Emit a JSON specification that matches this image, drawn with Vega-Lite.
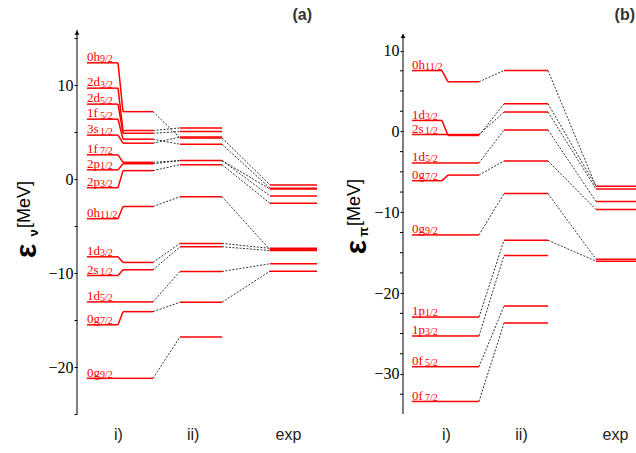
{
"$schema": "https://vega.github.io/schema/vega-lite/v6.json",
"padding": {"left": 12, "top": 7, "right": 0, "bottom": 3},
"spacing": 24,
"config": {"view": {"stroke": null}, "axis": {"grid": false}},
"datasets": {
"levA": [
{"n":"0h","s":"9/2","bare":12.4,"i":7.2},
{"n":"2d","s":"3/2","bare":9.7,"i":5.19},
{"n":"2d","s":"5/2","bare":8.0,"i":4.9},
{"n":"1f","s":"5/2","bare":6.4,"i":4.27},
{"n":"3s","s":"1/2","bare":4.7,"i":3.84},
{"n":"1f","s":"7/2","bare":2.6,"i":1.8},
{"n":"2p","s":"1/2","bare":1.0,"i":1.65},
{"n":"2p","s":"3/2","bare":-0.9,"i":0.92},
{"n":"0h","s":"11/2","bare":-4.2,"i":-2.9},
{"n":"1d","s":"3/2","bare":-8.26,"i":-8.86},
{"n":"2s","s":"1/2","bare":-10.25,"i":-9.64},
{"n":"1d","s":"5/2","bare":-13.06,"i":-13.06},
{"n":"0g","s":"7/2","bare":-15.5,"i":-14.1},
{"n":"0g","s":"9/2","bare":-21.2,"i":-21.2}
],
"iiA": [{"v":5.47},{"v":5.08},{"v":4.5},{"v":4.4},{"v":3.73},{"v":1.99},{"v":1.55},{"v":-1.86},{"v":-6.83},{"v":-7.19},{"v":-9.82},{"v":-13.1},{"v":-16.8}],
"expA": [{"v":-0.61},{"v":-0.96},{"v":-1.05},{"v":-1.78},{"v":-2.56},{"v":-7.36},{"v":-7.5},{"v":-7.6},{"v":-9.0},{"v":-9.79}],
"conA1": [{"a":7.2,"b":4.4},{"a":5.19,"b":5.47},{"a":4.9,"b":5.08},{"a":4.27,"b":3.73},{"a":3.84,"b":4.5},{"a":1.8,"b":1.99},{"a":1.65,"b":1.99},{"a":0.92,"b":1.55},{"a":-2.9,"b":-1.86},{"a":-8.86,"b":-6.83},{"a":-9.64,"b":-7.19},{"a":-13.06,"b":-9.82},{"a":-14.1,"b":-13.1},{"a":-21.2,"b":-16.8}],
"conA2": [{"a":4.4,"b":-0.61},{"a":3.73,"b":-0.96},{"a":1.99,"b":-1.05},{"a":1.99,"b":-1.78},{"a":1.55,"b":-2.56},{"a":-1.86,"b":-7.5},{"a":-6.83,"b":-7.36},{"a":-7.19,"b":-7.6},{"a":-9.82,"b":-9.0},{"a":-13.1,"b":-9.79}],
"levB": [
{"n":"0h","s":"11/2","bare":7.53,"i":6.14},
{"n":"1d","s":"3/2","bare":1.36,"i":-0.5},
{"n":"2s","s":"1/2","bare":-0.38,"i":-0.38},
{"n":"1d","s":"5/2","bare":-3.9,"i":-3.9},
{"n":"0g","s":"7/2","bare":-6.09,"i":-5.4},
{"n":"0g","s":"9/2","bare":-12.8,"i":-12.8},
{"n":"1p","s":"1/2","bare":-22.96,"i":-22.96},
{"n":"1p","s":"3/2","bare":-25.3,"i":-25.3},
{"n":"0f","s":"5/2","bare":-29.1,"i":-29.1},
{"n":"0f","s":"7/2","bare":-33.4,"i":-33.4}
],
"iiB": [{"v":7.53},{"v":3.42},{"v":2.4},{"v":0.17},{"v":-3.65},{"v":-7.69},{"v":-13.46},{"v":-15.35},{"v":-21.6},{"v":-23.7}],
"expB": [{"v":-6.79},{"v":-7.11},{"v":-8.66},{"v":-9.65},{"v":-15.8},{"v":-16.05}],
"conB1": [{"a":6.14,"b":7.53},{"a":-0.5,"b":3.42},{"a":-0.38,"b":2.4},{"a":-3.9,"b":0.17},{"a":-5.4,"b":-3.65},{"a":-12.8,"b":-7.69},{"a":-22.96,"b":-13.46},{"a":-25.3,"b":-15.35},{"a":-29.1,"b":-21.6},{"a":-33.4,"b":-23.7}],
"conB2": [{"a":7.53,"b":-6.79},{"a":3.42,"b":-6.79},{"a":2.4,"b":-7.11},{"a":0.17,"b":-8.66},{"a":-3.65,"b":-9.65},{"a":-7.69,"b":-15.8},{"a":-13.46,"b":-16.05}],
"minorB": [{"t":-32.5},{"t":-27.5},{"t":-25},{"t":-22.5},{"t":-17.5},{"t":-15},{"t":-12.5},{"t":-7.5},{"t":-5},{"t":-2.5},{"t":2.5},{"t":5},{"t":7.5}]
},
"hconcat": [
{
"width": 241, "height": 385,
"title": {"text": "(a)", "anchor": "end", "frame": "group", "font": "Liberation Sans", "fontSize": 16, "fontWeight": "bold", "color": "#333333", "offset": 6, "dx": -6},
"layer": [
{"data": {"values": [{}]}, "mark": {"type": "rule", "color": "black", "strokeWidth": 1},
 "encoding": {
  "x": {"datum": 0, "type": "quantitative", "scale": {"domain": [0, 241]},
   "axis": {"values": [41, 115.7, 211], "labelExpr": "datum.value < 80 ? 'i)' : (datum.value < 160 ? 'ii)' : 'exp')", "domain": false, "ticks": false, "title": null, "labelFont": "Liberation Sans", "labelFontSize": 16, "labelColor": "#222222", "labelPadding": 12, "labelFlush": false, "labelOverlap": false}},
  "y": {"datum": -25, "type": "quantitative", "scale": {"domain": [-25, 16]},
   "axis": {"values": [-25,-22.5,-20,-17.5,-15,-12.5,-10,-7.5,-5,-2.5,0,2.5,5,7.5,10,12.5,15], "labelExpr": "datum.value % 10 === 0 ? format(datum.value, 'd') : ''", "domain": false, "title": null, "labelFont": "Liberation Serif", "labelFontSize": 16, "labelColor": "black", "tickColor": "black", "tickSize": 3, "labelPadding": 1, "labelFlush": false, "labelOverlap": false}},
  "y2": {"datum": 15.9}
 }},
{"data": {"values": [{}]}, "mark": {"type": "point", "shape": "triangle-up", "filled": true, "color": "black", "size": 22, "opacity": 1},
 "encoding": {"x": {"datum": 0, "type": "quantitative", "scale": {"domain": [0, 241]}}, "y": {"datum": 15.6, "type": "quantitative", "scale": {"domain": [-25, 16]}}}},
{"data": {"name": "conA1"}, "mark": {"type": "rule", "color": "black", "strokeWidth": 0.8, "strokeDash": [2, 1.5]},
 "encoding": {"x": {"datum": 76, "type": "quantitative", "scale": {"domain": [0, 241]}}, "x2": {"datum": 103}, "y": {"field": "a", "type": "quantitative", "scale": {"domain": [-25, 16]}}, "y2": {"field": "b"}}},
{"data": {"name": "conA2"}, "mark": {"type": "rule", "color": "black", "strokeWidth": 0.8, "strokeDash": [2, 1.5]},
 "encoding": {"x": {"datum": 145, "type": "quantitative", "scale": {"domain": [0, 241]}}, "x2": {"datum": 193}, "y": {"field": "a", "type": "quantitative", "scale": {"domain": [-25, 16]}}, "y2": {"field": "b"}}},
{"data": {"name": "levA"}, "mark": {"type": "rule", "color": "#ff0000", "strokeWidth": 1.5},
 "encoding": {"x": {"datum": 10, "type": "quantitative", "scale": {"domain": [0, 241]}}, "x2": {"datum": 41}, "y": {"field": "bare", "type": "quantitative", "scale": {"domain": [-25, 16]}}}},
{"data": {"name": "levA"}, "mark": {"type": "rule", "color": "#ff0000", "strokeWidth": 1.5},
 "encoding": {"x": {"datum": 41, "type": "quantitative", "scale": {"domain": [0, 241]}}, "x2": {"datum": 46}, "y": {"field": "bare", "type": "quantitative", "scale": {"domain": [-25, 16]}}, "y2": {"field": "i"}}},
{"data": {"name": "levA"}, "mark": {"type": "rule", "color": "#ff0000", "strokeWidth": 1.5},
 "encoding": {"x": {"datum": 46, "type": "quantitative", "scale": {"domain": [0, 241]}}, "x2": {"datum": 76}, "y": {"field": "i", "type": "quantitative", "scale": {"domain": [-25, 16]}}}},
{"data": {"name": "iiA"}, "mark": {"type": "rule", "color": "#ff0000", "strokeWidth": 1.5},
 "encoding": {"x": {"datum": 103, "type": "quantitative", "scale": {"domain": [0, 241]}}, "x2": {"datum": 145}, "y": {"field": "v", "type": "quantitative", "scale": {"domain": [-25, 16]}}}},
{"data": {"name": "expA"}, "mark": {"type": "rule", "color": "#ff0000", "strokeWidth": 1.5},
 "encoding": {"x": {"datum": 193, "type": "quantitative", "scale": {"domain": [0, 241]}}, "x2": {"datum": 240}, "y": {"field": "v", "type": "quantitative", "scale": {"domain": [-25, 16]}}}},
{"data": {"name": "levA"}, "mark": {"type": "text", "align": "left", "baseline": "alphabetic", "dy": -1.8, "font": "Liberation Serif", "fontSize": 13, "color": "#ff0000"},
 "encoding": {"x": {"datum": 10, "type": "quantitative", "scale": {"domain": [0, 241]}}, "y": {"field": "bare", "type": "quantitative", "scale": {"domain": [-25, 16]}}, "text": {"field": "n"}}},
{"data": {"name": "levA"}, "mark": {"type": "text", "align": "left", "baseline": "alphabetic", "dx": 13, "dy": -0.6, "font": "Liberation Serif", "fontSize": 10, "color": "#ff0000"},
 "encoding": {"x": {"datum": 10, "type": "quantitative", "scale": {"domain": [0, 241]}}, "y": {"field": "bare", "type": "quantitative", "scale": {"domain": [-25, 16]}}, "text": {"field": "s"}}},
{"data": {"values": [{}]}, "mark": {"type": "text", "text": "ε", "angle": 270, "align": "center", "baseline": "middle", "font": "Liberation Sans", "fontWeight": "bold", "fontSize": 30, "color": "black"},
 "encoding": {"x": {"datum": -50, "type": "quantitative", "scale": {"domain": [0, 241]}}, "y": {"datum": -7.64, "type": "quantitative", "scale": {"domain": [-25, 16]}}}},
{"data": {"values": [{}]}, "mark": {"type": "text", "text": "ν", "angle": 270, "align": "center", "baseline": "middle", "font": "Liberation Sans", "fontWeight": "bold", "fontSize": 13, "color": "black"},
 "encoding": {"x": {"datum": -43, "type": "quantitative", "scale": {"domain": [0, 241]}}, "y": {"datum": -5.7, "type": "quantitative", "scale": {"domain": [-25, 16]}}}},
{"data": {"values": [{}]}, "mark": {"type": "text", "text": "[MeV]", "angle": 270, "align": "center", "baseline": "middle", "font": "Liberation Sans", "fontSize": 18, "color": "black"},
 "encoding": {"x": {"datum": -52, "type": "quantitative", "scale": {"domain": [0, 241]}}, "y": {"datum": -2.7, "type": "quantitative", "scale": {"domain": [-25, 16]}}}}
]
},
{
"width": 235, "height": 385,
"title": {"text": "(b)", "anchor": "end", "frame": "group", "font": "Liberation Sans", "fontSize": 16, "fontWeight": "bold", "color": "#333333", "offset": 6, "dx": -3},
"layer": [
{"data": {"values": [{}]}, "mark": {"type": "rule", "color": "black", "strokeWidth": 1},
 "encoding": {
  "x": {"datum": 0, "type": "quantitative", "scale": {"domain": [0, 235]},
   "axis": {"values": [43, 118, 212], "labelExpr": "datum.value < 80 ? 'i)' : (datum.value < 160 ? 'ii)' : 'exp')", "domain": false, "ticks": false, "title": null, "labelFont": "Liberation Sans", "labelFontSize": 16, "labelColor": "#222222", "labelPadding": 12, "labelFlush": false, "labelOverlap": false}},
  "y": {"datum": -34.95, "type": "quantitative", "scale": {"domain": [-34.95, 12.67]},
   "axis": {"values": [-30, -20, -10, 0, 10], "format": "d", "domain": false, "title": null, "labelFont": "Liberation Serif", "labelFontSize": 16, "labelColor": "black", "tickColor": "black", "tickSize": 3, "labelPadding": 1, "labelFlush": false, "labelOverlap": false}},
  "y2": {"datum": 12.05}
 }},
{"data": {"name": "minorB"}, "mark": {"type": "rule", "color": "black", "strokeWidth": 1},
 "encoding": {"x": {"datum": -3, "type": "quantitative", "scale": {"domain": [0, 235]}}, "x2": {"datum": 0}, "y": {"field": "t", "type": "quantitative", "scale": {"domain": [-34.95, 12.67]}}}},
{"data": {"values": [{}]}, "mark": {"type": "point", "shape": "triangle-up", "filled": true, "color": "black", "size": 22, "opacity": 1},
 "encoding": {"x": {"datum": 0, "type": "quantitative", "scale": {"domain": [0, 235]}}, "y": {"datum": 11.8, "type": "quantitative", "scale": {"domain": [-34.95, 12.67]}}}},
{"data": {"name": "conB1"}, "mark": {"type": "rule", "color": "black", "strokeWidth": 0.8, "strokeDash": [2, 1.5]},
 "encoding": {"x": {"datum": 76, "type": "quantitative", "scale": {"domain": [0, 235]}}, "x2": {"datum": 101}, "y": {"field": "a", "type": "quantitative", "scale": {"domain": [-34.95, 12.67]}}, "y2": {"field": "b"}}},
{"data": {"name": "conB2"}, "mark": {"type": "rule", "color": "black", "strokeWidth": 0.8, "strokeDash": [2, 1.5]},
 "encoding": {"x": {"datum": 145, "type": "quantitative", "scale": {"domain": [0, 235]}}, "x2": {"datum": 193}, "y": {"field": "a", "type": "quantitative", "scale": {"domain": [-34.95, 12.67]}}, "y2": {"field": "b"}}},
{"data": {"name": "levB"}, "mark": {"type": "rule", "color": "#ff0000", "strokeWidth": 1.5},
 "encoding": {"x": {"datum": 9, "type": "quantitative", "scale": {"domain": [0, 235]}}, "x2": {"datum": 39}, "y": {"field": "bare", "type": "quantitative", "scale": {"domain": [-34.95, 12.67]}}}},
{"data": {"name": "levB"}, "mark": {"type": "rule", "color": "#ff0000", "strokeWidth": 1.5},
 "encoding": {"x": {"datum": 39, "type": "quantitative", "scale": {"domain": [0, 235]}}, "x2": {"datum": 45}, "y": {"field": "bare", "type": "quantitative", "scale": {"domain": [-34.95, 12.67]}}, "y2": {"field": "i"}}},
{"data": {"name": "levB"}, "mark": {"type": "rule", "color": "#ff0000", "strokeWidth": 1.5},
 "encoding": {"x": {"datum": 45, "type": "quantitative", "scale": {"domain": [0, 235]}}, "x2": {"datum": 76}, "y": {"field": "i", "type": "quantitative", "scale": {"domain": [-34.95, 12.67]}}}},
{"data": {"name": "iiB"}, "mark": {"type": "rule", "color": "#ff0000", "strokeWidth": 1.5},
 "encoding": {"x": {"datum": 101, "type": "quantitative", "scale": {"domain": [0, 235]}}, "x2": {"datum": 145}, "y": {"field": "v", "type": "quantitative", "scale": {"domain": [-34.95, 12.67]}}}},
{"data": {"name": "expB"}, "mark": {"type": "rule", "color": "#ff0000", "strokeWidth": 1.5},
 "encoding": {"x": {"datum": 193, "type": "quantitative", "scale": {"domain": [0, 235]}}, "x2": {"datum": 235}, "y": {"field": "v", "type": "quantitative", "scale": {"domain": [-34.95, 12.67]}}}},
{"data": {"name": "levB"}, "mark": {"type": "text", "align": "left", "baseline": "alphabetic", "dy": -1.8, "font": "Liberation Serif", "fontSize": 13, "color": "#ff0000"},
 "encoding": {"x": {"datum": 9, "type": "quantitative", "scale": {"domain": [0, 235]}}, "y": {"field": "bare", "type": "quantitative", "scale": {"domain": [-34.95, 12.67]}}, "text": {"field": "n"}}},
{"data": {"name": "levB"}, "mark": {"type": "text", "align": "left", "baseline": "alphabetic", "dx": 13, "dy": -0.6, "font": "Liberation Serif", "fontSize": 10, "color": "#ff0000"},
 "encoding": {"x": {"datum": 9, "type": "quantitative", "scale": {"domain": [0, 235]}}, "y": {"field": "bare", "type": "quantitative", "scale": {"domain": [-34.95, 12.67]}}, "text": {"field": "s"}}},
{"data": {"values": [{}]}, "mark": {"type": "text", "text": "ε", "angle": 270, "align": "center", "baseline": "middle", "font": "Liberation Sans", "fontWeight": "bold", "fontSize": 30, "color": "black"},
 "encoding": {"x": {"datum": -46, "type": "quantitative", "scale": {"domain": [0, 235]}}, "y": {"datum": -14.3, "type": "quantitative", "scale": {"domain": [-34.95, 12.67]}}}},
{"data": {"values": [{}]}, "mark": {"type": "text", "text": "π", "angle": 270, "align": "center", "baseline": "middle", "font": "Liberation Sans", "fontWeight": "bold", "fontSize": 13, "color": "black"},
 "encoding": {"x": {"datum": -39, "type": "quantitative", "scale": {"domain": [0, 235]}}, "y": {"datum": -12.4, "type": "quantitative", "scale": {"domain": [-34.95, 12.67]}}}},
{"data": {"values": [{}]}, "mark": {"type": "text", "text": "[MeV]", "angle": 270, "align": "center", "baseline": "middle", "font": "Liberation Sans", "fontSize": 18, "color": "black"},
 "encoding": {"x": {"datum": -48, "type": "quantitative", "scale": {"domain": [0, 235]}}, "y": {"datum": -8.8, "type": "quantitative", "scale": {"domain": [-34.95, 12.67]}}}}
]
}
]
}
